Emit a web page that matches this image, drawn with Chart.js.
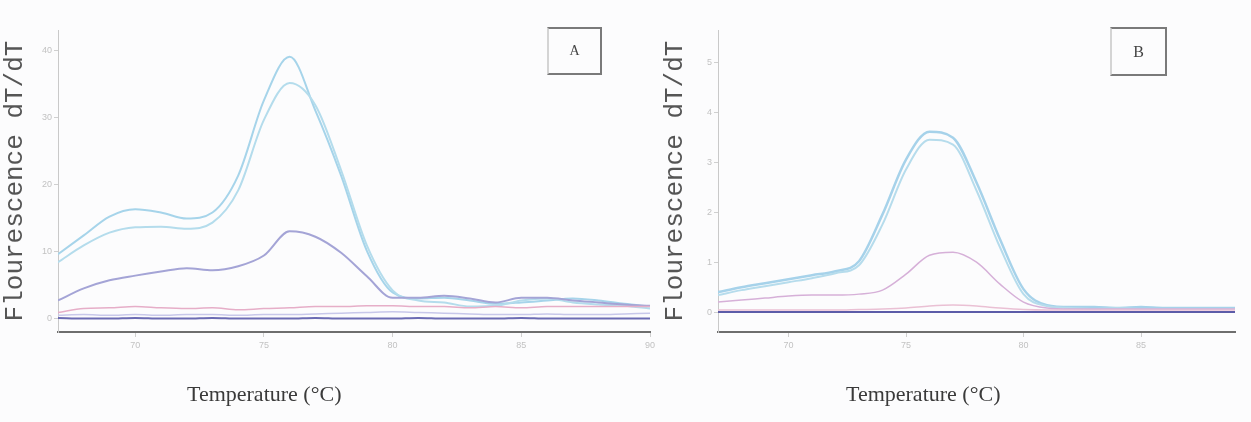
<!DOCTYPE html>
<html>
<head>
<meta charset="utf-8">
<script src="https://cdn.jsdelivr.net/npm/chart.js@4/dist/chart.umd.min.js"></script>
<style>
  body { margin: 0; background: #fcfcfd; width: 1251px; height: 422px; position: relative; overflow: hidden; }
  .panel { position: absolute; top: 0; height: 422px; }
  .xtitle { position: absolute; top: 381px; font-family: "Liberation Serif", serif; font-size: 22px; color: #3a3a3a; white-space: nowrap; }
  .tag { position: absolute; top: 27px; border: 2px solid #7a7a7a; border-left-color: #d4d4d4;
         font-family: "Liberation Serif", serif; color: #444; text-align: center; }
</style>
</head>
<body>
<div class="panel" style="left:0;width:660px"><canvas id="chartA"></canvas></div>
<div class="panel" style="left:660px;width:591px"><canvas id="chartB"></canvas></div>
<div class="xtitle" style="left:187px">Temperature (°C)</div>
<div class="xtitle" style="left:846px">Temperature (°C)</div>
<div class="tag" style="left:547px;width:51px;height:44px;line-height:44px;font-size:14px">A</div>
<div class="tag" style="left:1110px;width:53px;height:45px;line-height:45px;font-size:16px">B</div>
<script>
// Panel A - Temperatur (°C) und dF/dT
const tempsA = [67,68,69,70,71,72,73,74,75,76,77,78,79,80,81,82,83,84,85,86,87,88,89,90];
const cyanA1 = [9.6,12.4,15.2,16.3,15.8,14.9,15.8,21.3,32.5,39.0,31.0,21.3,10.1,3.9,3.0,3.1,2.7,2.2,2.4,2.7,3.0,2.7,2.2,1.8];
const cyanA2 = [8.4,10.9,12.8,13.6,13.7,13.4,14.3,19.1,29.6,35.1,31.8,22.1,10.9,4.2,2.7,2.4,1.8,1.9,2.7,3.0,2.4,2.1,1.9,1.5];
const purpleA = [2.7,4.5,5.7,6.4,7.0,7.5,7.2,7.8,9.4,13.0,12.2,9.8,6.3,3.1,3.1,3.4,3.0,2.4,3.1,3.1,2.7,2.4,2.1,1.9];
const pinkA = [0.9,1.5,1.6,1.8,1.6,1.5,1.6,1.3,1.5,1.6,1.8,1.8,1.9,1.9,1.8,1.8,1.6,1.8,1.6,1.8,1.8,1.8,1.8,1.8];
const lavA = [0.5,0.6,0.5,0.6,0.5,0.6,0.6,0.5,0.6,0.6,0.7,0.8,0.9,1.0,0.9,0.8,0.7,0.6,0.6,0.7,0.6,0.6,0.7,0.8];
const baseA = [0.1,0.0,0.0,0.1,0.0,0.0,0.1,0.0,0.0,0.0,0.1,0.0,0.0,0.0,0.1,0.0,0.0,0.0,0.1,0.0,0.0,0.0,0.0,0.0];
const xTicksA = [70,75,80,85,90];
const yTicksA = [0,10,20,30,40];

// Panel B
const tempsB = [67,68,69,70,71,72,73,74,75,76,77,78,79,80,81,82,83,84,85,86,87,88,89];
const cyanB1 = [0.40,0.50,0.58,0.66,0.74,0.82,1.02,1.96,3.06,3.62,3.50,2.60,1.46,0.46,0.14,0.10,0.10,0.08,0.10,0.08,0.08,0.08,0.08];
const cyanB2 = [0.34,0.44,0.52,0.60,0.68,0.78,0.94,1.76,2.86,3.46,3.36,2.44,1.30,0.36,0.12,0.08,0.06,0.08,0.06,0.06,0.06,0.06,0.06];
const pinkB = [0.20,0.24,0.28,0.32,0.34,0.34,0.36,0.44,0.76,1.14,1.20,1.00,0.56,0.20,0.08,0.06,0.06,0.06,0.06,0.06,0.06,0.06,0.06];
const faintB = [0.04,0.04,0.04,0.04,0.04,0.04,0.05,0.06,0.08,0.12,0.14,0.12,0.08,0.05,0.04,0.04,0.04,0.04,0.04,0.04,0.04,0.04,0.04];
const baseB = [0.0,0.0,0.0,0.0,0.0,0.0,0.0,0.0,0.0,0.0,0.0,0.0,0.0,0.0,0.0,0.0,0.0,0.0,0.0,0.0,0.0,0.0,0.0];
const xTicksB = [70,75,80,85];
const yTicksB = [0,1,2,3,4,5];

function pts(temps, vals) {
    return temps.map((t, i) => ({ x: t, y: vals[i] }));
}

function line(temps, vals, color, width) {
    return {
        data: pts(temps, vals),
        borderColor: color,
        borderWidth: width,
        pointRadius: 0,
        cubicInterpolationMode: 'monotone',
    };
}

function makeChart(id, w, datasets, xMin, xMax, xTicks, yMin, yMax, yTicks, padRight) {
    const ctx = document.getElementById(id);
    ctx.width = w; ctx.height = 422;
    return new Chart(ctx, {
        type: 'line',
        data: { datasets: datasets },
        options: {
            responsive: false,
            animation: false,
            layout: { padding: { top: 30, right: padRight, bottom: 0, left: 0 } },
            plugins: { legend: { display: false }, tooltip: { enabled: false } },
            scales: {
                x: {
                    type: 'linear',
                    min: xMin, max: xMax,
                    afterBuildTicks: s => { s.ticks = xTicks.map(v => ({ value: v })); },
                    afterFit: s => { s.height = 90; },
                    border: { color: '#6e6e6e', width: 2 },
                    grid: { drawOnChartArea: false, tickLength: 5, color: '#cfcfcf' },
                    ticks: { color: '#c2c2c2', font: { size: 9 }, maxRotation: 0 },
                },
                y: {
                    min: yMin, max: yMax,
                    afterBuildTicks: s => { s.ticks = yTicks.map(v => ({ value: v })); },
                    afterFit: s => { s.width = 58; },
                    border: { color: '#c9c9c9', width: 1 },
                    grid: { drawOnChartArea: false, tickLength: 4, color: '#cfcfcf' },
                    ticks: { color: '#c2c2c2', font: { size: 9 }, padding: 2 },
                    title: {
                        display: true,
                        text: 'Flourescence dT/dT',
                        color: '#555555',
                        font: { family: 'Liberation Mono', size: 26 },
                        padding: { top: 0, bottom: 0 },
                    },
                },
            },
        },
    });
}

makeChart('chartA', 660, [
    line(tempsA, baseA, '#6c6cb4', 2),
    line(tempsA, lavA, '#c8c8ea', 1.5),
    line(tempsA, pinkA, '#e6aec8', 1.5),
    line(tempsA, purpleA, '#a4a4d6', 2),
    line(tempsA, cyanA2, '#b4dcec', 2),
    line(tempsA, cyanA1, '#a6d4ea', 2),
], 67, 90, xTicksA, -2, 43, yTicksA, 10);

makeChart('chartB', 591, [
    line(tempsB, baseB, '#5c5ca8', 2),
    line(tempsB, faintB, '#eac0d4', 1.5),
    line(tempsB, pinkB, '#d6b0d8', 1.5),
    line(tempsB, cyanB2, '#b6dcec', 2),
    line(tempsB, cyanB1, '#a6d2ea', 2.5),
], 67, 89, xTicksB, -0.4, 5.66, yTicksB, 16);
</script>
</body>
</html>
